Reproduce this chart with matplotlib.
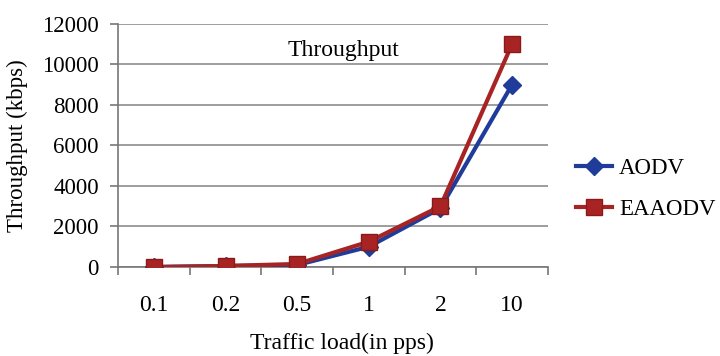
import matplotlib
matplotlib.use("Agg")
import matplotlib.pyplot as plt
import numpy as np

categories = ["0.1", "0.2", "0.5", "1", "2", "10"]
aodv = [0, 50, 100, 1000, 2900, 9000]
eaaodv = [0, 50, 150, 1250, 3000, 11000]

plt.rcParams['font.family'] = ['Liberation Serif', 'DejaVu Serif']

fig = plt.figure(figsize=(7.2, 3.56), dpi=100)
ax = fig.add_axes([0.164, 0.25, 0.597, 0.683])

x = np.arange(len(categories))
ax.plot(x, aodv, color='#1f3c9a', lw=3, marker='D', ms=9, label='AODV', zorder=3)
ax.plot(x, eaaodv, color='#a82424', lw=3, marker='s', ms=12,
        markeredgecolor='#8a1a1a', label='EAAODV', zorder=4)

ax.set_xlim(-0.5, len(categories) - 0.5)
ax.set_ylim(0, 12000)
ax.set_yticks(np.arange(0, 12001, 2000))
ax.yaxis.grid(True, color='#8c8c8c', lw=1.2)
ax.set_axisbelow(True)
for s in ['top', 'right']:
    ax.spines[s].set_visible(False)
ax.spines['left'].set_color('#777777')
ax.spines['bottom'].set_color('#777777')
ax.spines['left'].set_linewidth(1.2)
ax.spines['bottom'].set_linewidth(1.2)

ax.set_xticks(x)
ax.set_xticklabels(categories)
ax.tick_params(axis='x', length=0, pad=20, labelsize=17)
ax.set_xticks(np.arange(-0.5, len(categories)), minor=True)
ax.tick_params(axis='x', which='minor', length=6, color='#777777', width=1.2)
ax.tick_params(axis='y', length=6, color='#777777', width=1.2, labelsize=16.5, pad=8)

ax.set_xlabel('Traffic load(in pps)', fontsize=17, labelpad=12)
ax.xaxis.set_label_coords(0.52, -0.27)
ax.set_ylabel('Throughput (kbps)', fontsize=16.5, labelpad=10)
ax.text(2.65, 10700, 'Throughput', fontsize=17, ha='center', va='center')

ax.legend(loc='center left', bbox_to_anchor=(1.027, 0.32), frameon=False,
          fontsize=16.5, handlelength=1.6, handletextpad=0.3, labelspacing=0.88,
          borderaxespad=0.3)

fig.savefig('out.png', dpi=100)
